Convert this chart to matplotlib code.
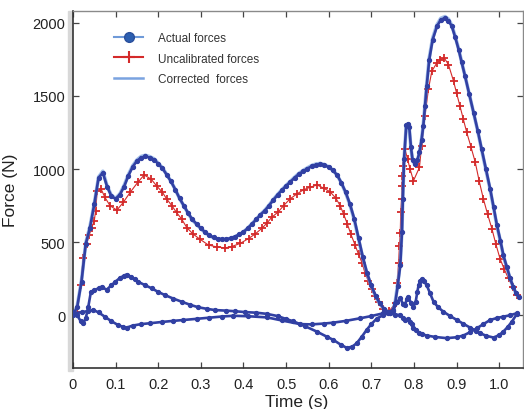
import matplotlib
matplotlib.use("Agg")
import matplotlib.pyplot as plt
from matplotlib.lines import Line2D
from matplotlib.patches import Rectangle

plt.rcParams['font.family'] = ['Liberation Sans', 'DejaVu Sans']

# vertical force, both stances (actual)
t_actual = [0.00, 0.01, 0.02, 0.03, 0.04, 0.05, 0.06, 0.07, 0.08, 0.09,
            0.10, 0.11, 0.12, 0.13, 0.14, 0.15, 0.16, 0.17, 0.18, 0.19,
            0.20, 0.21, 0.22, 0.23, 0.24, 0.25, 0.26, 0.27, 0.28, 0.29,
            0.30, 0.31, 0.32, 0.33, 0.34, 0.35, 0.36, 0.37, 0.38, 0.39,
            0.40, 0.41, 0.42, 0.43, 0.44, 0.45, 0.46, 0.47, 0.48, 0.49,
            0.50, 0.51, 0.52, 0.53, 0.54, 0.55, 0.56, 0.57, 0.58, 0.59,
            0.60, 0.61, 0.62, 0.63, 0.64, 0.65, 0.66, 0.67, 0.68, 0.69,
            0.70, 0.71, 0.72, 0.73, 0.74, 0.750, 0.756, 0.762, 0.768, 0.772,
            0.774, 0.777, 0.782, 0.786, 0.789, 0.793, 0.797, 0.803, 0.808, 0.813,
            0.818, 0.822, 0.826, 0.830, 0.836, 0.844, 0.854, 0.863, 0.873, 0.881,
            0.889, 0.897, 0.905, 0.912, 0.920, 0.930, 0.940, 0.950, 0.959, 0.969,
            0.979, 0.987, 0.995, 1.003, 1.010, 1.018, 1.026, 1.033, 1.040, 1.046]
f_actual = [0, 60, 231, 490, 600, 760, 940, 975, 880, 815,
            796, 825, 880, 955, 1015, 1055, 1078, 1086, 1078, 1065,
            1035, 1005, 960, 915, 860, 800, 750, 700, 655, 625,
            595, 569, 548, 532, 524, 520, 521, 527, 538, 553,
            570, 595, 625, 655, 688, 715, 750, 788, 823, 855,
            885, 912, 940, 965, 985, 1003, 1018, 1028, 1032, 1026,
            1013, 990, 958, 905, 840, 760, 660, 530, 400, 290,
            205, 135, 82, 45, 22, 30, 82, 200, 342, 571,
            796, 1068, 1300, 1310, 1290, 1150, 1060, 1034, 1060, 1114,
            1200, 1295, 1430, 1567, 1748, 1884, 1975, 2020, 2032, 2015,
            1975, 1900, 1816, 1730, 1635, 1510, 1386, 1260, 1136, 1000,
            864, 740, 614, 510, 410, 330, 252, 195, 150, 125]

# corrected forces lie almost on top of the actual ones
f_corrected = [0, 65, 240, 495, 610, 765, 945, 985, 885, 820,
               800, 830, 888, 962, 1022, 1062, 1086, 1094, 1085, 1070,
               1040, 1008, 962, 916, 860, 800, 748, 698, 652, 622,
               592, 566, 545, 530, 522, 518, 520, 526, 537, 552,
               570, 596, 626, 657, 690, 718, 753, 791, 826, 858,
               888, 916, 944, 970, 990, 1008, 1024, 1034, 1038, 1030,
               1016, 992, 958, 903, 836, 755, 652, 522, 392, 284,
               200, 130, 78, 42, 20, 28, 90, 215, 360, 590,
               810, 1075, 1295, 1305, 1280, 1145, 1055, 1030, 1058, 1112,
               1205, 1305, 1440, 1580, 1760, 1895, 1985, 2030, 2042, 2025,
               1982, 1905, 1820, 1732, 1636, 1510, 1384, 1256, 1130, 994,
               858, 734, 608, 505, 405, 326, 250, 193, 148, 124]

# uncalibrated (red crosses)
t_uncal = [0.010, 0.018, 0.024, 0.032, 0.038, 0.044, 0.050, 0.053, 0.057, 0.066,
           0.075, 0.087, 0.103, 0.118, 0.134, 0.152, 0.167, 0.183, 0.196, 0.210,
           0.220, 0.232, 0.243, 0.255, 0.267, 0.282, 0.298, 0.318, 0.337, 0.357,
           0.372, 0.392, 0.412, 0.427, 0.443, 0.455, 0.466, 0.482, 0.494, 0.509,
           0.525, 0.541, 0.556, 0.573, 0.589, 0.603, 0.617, 0.627, 0.635, 0.644,
           0.652, 0.662, 0.670, 0.678, 0.685, 0.693, 0.701, 0.709, 0.717, 0.727,
           0.742, 0.758, 0.761, 0.764, 0.766, 0.768, 0.769, 0.771, 0.772, 0.773,
           0.774, 0.779, 0.785, 0.791, 0.799, 0.813, 0.818, 0.826, 0.834, 0.842,
           0.854, 0.862, 0.871, 0.881, 0.893, 0.900, 0.908, 0.916, 0.924, 0.934,
           0.944, 0.953, 0.963, 0.973, 0.983, 0.992, 1.002, 1.012, 1.022, 1.032,
           1.042]
f_uncal = [20, 210, 395, 486, 548, 600, 646, 714, 851, 863,
           806, 749, 719, 772, 840, 909, 959, 932, 886, 840,
           795, 749, 703, 658, 600, 555, 520, 480, 468, 461,
           470, 491, 525, 555, 594, 630, 669, 708, 749, 795,
           829, 858, 875, 891, 868, 845, 800, 749, 692, 623,
           555, 480, 418, 361, 292, 235, 178, 132, 91, 41,
           30, 87, 224, 361, 475, 566, 703, 795, 886, 954,
           1023, 1137, 1069, 1000, 920, 1011, 1159, 1363, 1544, 1669,
           1726, 1745, 1760, 1714, 1601, 1520, 1431, 1340, 1250, 1150,
           1046, 920, 796, 690, 592, 490, 388, 315, 252, 195,
           138]

# shear components, first stance
t_shear1 = [0.000, 0.010, 0.018, 0.024, 0.030, 0.036, 0.042, 0.050, 0.060, 0.067,
            0.079, 0.090, 0.099, 0.110, 0.120, 0.126, 0.135, 0.145, 0.153, 0.170,
            0.185, 0.200, 0.216, 0.235, 0.255, 0.275, 0.294, 0.315, 0.333, 0.360,
            0.380, 0.404, 0.430, 0.455, 0.480, 0.500, 0.517, 0.545, 0.572, 0.595,
            0.611, 0.628, 0.642, 0.655, 0.666, 0.678, 0.689, 0.700, 0.713, 0.727,
            0.740]
f_shear1 = [20, 0, -40, -54, -20, 60, 160, 172, 185, 195,
            175, 205, 229, 255, 272, 279, 265, 245, 229, 205,
            184, 160, 138, 115, 93, 72, 55, 44, 36, 32,
            28, 22, 18, 10, -5, -25, -41, -75, -111, -145,
            -168, -200, -222, -215, -190, -145, -100, -60, -22, 0,
            15]

t_shear2 = [0.000, 0.020, 0.035, 0.048, 0.060, 0.075, 0.090, 0.105, 0.118, 0.126,
            0.140, 0.160, 0.181, 0.210, 0.235, 0.259, 0.290, 0.320, 0.350, 0.376,
            0.410, 0.455, 0.490, 0.533, 0.560, 0.590, 0.611, 0.640, 0.674, 0.700,
            0.728, 0.745]
f_shear2 = [15, 20, 30, 36, 20, -10, -40, -65, -80, -84,
            -70, -60, -54, -45, -38, -32, -24, -16, -8, -3,
            -6, -14, -35, -60, -62, -56, -50, -38, -20, -5,
            14, 20]

# shear components, second stance
t_shear3 = [0.745, 0.752, 0.760, 0.768, 0.774, 0.779, 0.783, 0.787, 0.793, 0.799,
            0.804, 0.808, 0.811, 0.815, 0.818, 0.823, 0.830, 0.838, 0.846, 0.857,
            0.869, 0.885, 0.901, 0.916, 0.932, 0.945, 0.955, 0.970, 0.987, 1.000,
            1.010, 1.020, 1.030, 1.041]
f_shear3 = [15, 36, 90, 116, 80, 70, 110, 127, 85, 59,
            90, 160, 206, 235, 247, 235, 206, 150, 93, 55,
            25, -5, -32, -58, -84, -105, -122, -140, -152, -135,
            -111, -80, -43, 7]

t_shear4 = [0.745, 0.755, 0.768, 0.774, 0.779, 0.785, 0.791, 0.795, 0.799, 0.805,
            0.811, 0.820, 0.830, 0.850, 0.877, 0.900, 0.916, 0.932, 0.948, 0.963,
            0.979, 0.995, 1.010, 1.025, 1.041]
f_shear4 = [15, 5, 2, -20, -32, -25, -43, -60, -88, -100,
            -122, -130, -138, -148, -156, -150, -138, -115, -88, -60,
            -32, -18, -9, 0, 14]

x_ticks = [0, 0.1, 0.2, 0.3, 0.4, 0.5, 0.6, 0.7, 0.8, 0.9, 1.0]
x_labels = ['0', '0.1', '0.2', '0.3', '0.4', '0.5', '0.6', '0.7', '0.8', '0.9', '1.0']
y_ticks = [0, 500, 1000, 1500, 2000]

dark_blue = '#3140a3'
light_blue = '#7aa3e0'
red = '#d42a2a'

fig = plt.figure(figsize=(5.24, 4.10), dpi=100)
ax = fig.add_axes([0.1393, 0.1, 0.8588, 0.8707])

# grey band left of the axis, as in the scanned figure
fig.add_artist(Rectangle((68 / 524, (410 - 372) / 410), 5 / 524, 360 / 410,
                         transform=fig.transFigure, color='#d8d8d8', zorder=0))

ax.plot(t_uncal, f_uncal, color=red, lw=0.8, marker='+', ms=6, mew=1.3, zorder=2)
ax.plot(t_actual, f_corrected, color=light_blue, lw=2.6, alpha=0.7, zorder=2.5)

blue_style = dict(color=dark_blue, lw=1.9, marker='o', ms=2.8, mec=dark_blue, zorder=3)
ax.plot(t_actual, f_actual, **blue_style)
for ts, fs in [(t_shear1, f_shear1), (t_shear2, f_shear2),
               (t_shear3, f_shear3), (t_shear4, f_shear4)]:
    ax.plot(ts, fs, **blue_style)

ax.set_xlim(0, 1.056)
ax.set_ylim(-360, 2080)
ax.set_xticks(x_ticks)
ax.set_xticklabels(x_labels)
ax.set_yticks(y_ticks)

ax.tick_params(direction='in', top=True, right=True, length=4, width=0.9,
               labelsize=10.5, labelcolor='#222222', color='#444444')
ax.tick_params(axis='x', pad=6.5)
ax.tick_params(axis='y', pad=5.5)

for side in ['left', 'bottom']:
    ax.spines[side].set_color('#333333')
    ax.spines[side].set_linewidth(1.2)
for side in ['top', 'right']:
    ax.spines[side].set_color('#8a8a8a')
    ax.spines[side].set_linewidth(1.0)

ax.set_xlabel('Time (s)', fontsize=12.5, color='#222222')
ax.set_ylabel('Force (N)', fontsize=12.5, color='#222222')
ax.xaxis.set_label_coords(0.496, -0.072)
ax.yaxis.set_label_coords(-0.122, 0.5)

handles = [
    Line2D([], [], color='#6f9ad8', lw=1.5, marker='o', ms=7,
           mfc='#2c5fb0', mec='#2a4f9c'),
    Line2D([], [], color=red, lw=1.5, marker='+', ms=8, mew=1.5),
    Line2D([], [], color=light_blue, lw=1.8),
]
labels = ['Actual forces', 'Uncalibrated forces', 'Corrected  forces']
leg = ax.legend(handles, labels, loc='upper left', bbox_to_anchor=(0.092, 0.942),
                frameon=False, fontsize=8.5, handlelength=2.4, handletextpad=1.3,
                labelspacing=0.75, borderpad=0, borderaxespad=0)
for txt in leg.get_texts():
    txt.set_color('#333333')

fig.savefig('out.png', dpi=100)
